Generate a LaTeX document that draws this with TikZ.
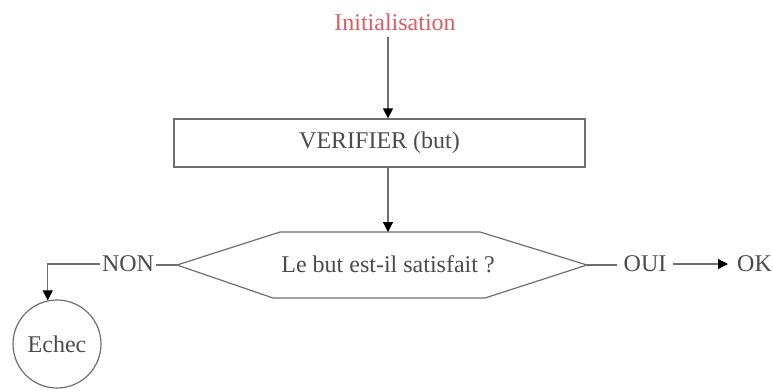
\documentclass[tikz,border=0pt]{standalone}
\usepackage{fontspec}
\setmainfont{Liberation Serif}
\usetikzlibrary{arrows.meta}
\definecolor{linegray}{RGB}{110,110,110}
\definecolor{txtgray}{RGB}{75,75,75}
\definecolor{initred}{RGB}{225,90,95}
\begin{document}
\begin{tikzpicture}[x=1pt,y=-1pt,
  every node/.style={font=\fontsize{24}{26}\selectfont, text=txtgray},
  conn/.style={draw=linegray, line width=1.2pt},
  arr/.style={conn, -{Triangle[length=10pt,width=10pt,color=black]}},
  boxstyle/.style={draw=linegray, line width=1.2pt, minimum width=411pt, minimum height=48pt, inner sep=0pt},
  endcircle/.style={draw=linegray, line width=1.2pt, circle, minimum size=88pt, inner sep=0pt},
  lbl/.style={inner sep=2pt}]
\useasboundingbox (0,0) rectangle (773,391);
\node[text=initred, inner sep=2pt] (init) at (395,22) {Initialisation};
\node[boxstyle] (verif) at (379.5,143) {VERIFIER (but)};
% decision hexagon
\coordinate (decL) at (177,265);
\coordinate (decR) at (587,265);
\coordinate (decT) at (388,232);
\coordinate (initx) at (388,37);
\draw[conn] (decL) -- (280,232) -- (480,232) -- (decR) -- (485,298) -- (273,298) -- cycle;
\node (dec) at (388,264) {Le but est-il satisfait ?};
\node[lbl] (non) at (128,264) {NON};
\node[inner sep=6pt] (oui) at (645,264) {OUI};
\node[anchor=west, inner sep=0pt] (ok) at (737,264) {OK};
\node[endcircle] (echec) at (57,344) {Echec};
\draw[arr] (initx) -- (verif.north -| initx);
\draw[arr] (verif.south -| decT) -- (decT);
\draw[conn] (decL) -- (non.east |- decL);
\draw[arr] (non.west) -| (echec.102);
\draw[conn] (decR) -- (oui.west |- decR);
\draw[arr] (oui.east) -- ([xshift=-9pt]ok.west);
\end{tikzpicture}
\end{document}
